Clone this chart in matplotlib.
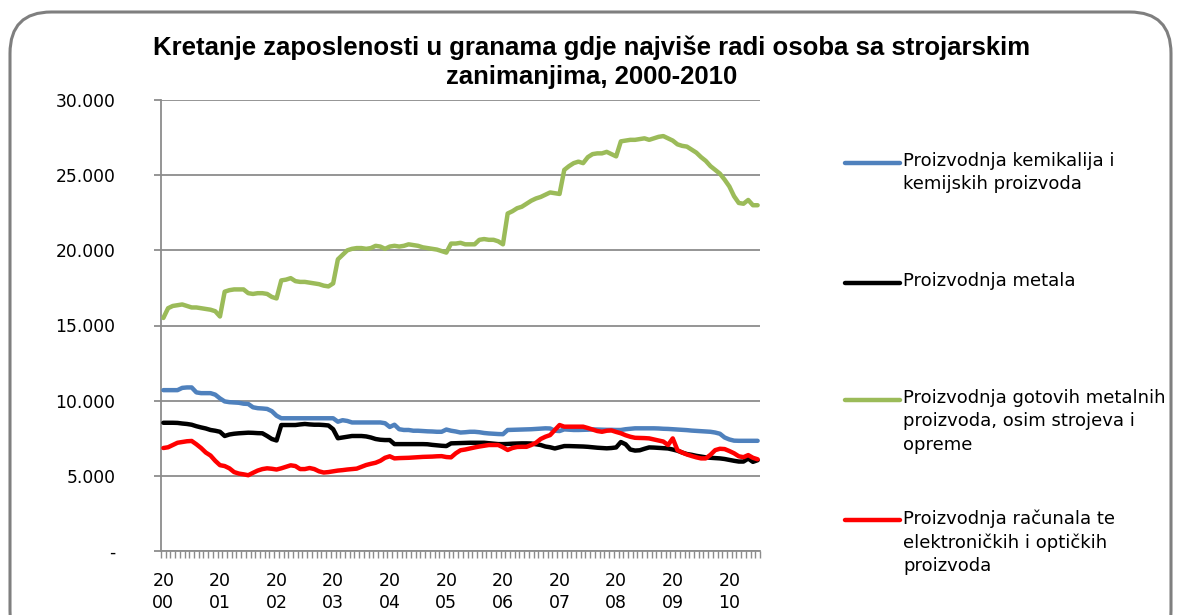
import matplotlib
matplotlib.use("Agg")
import matplotlib.pyplot as plt
from matplotlib.lines import Line2D
from matplotlib.patches import FancyBboxPatch

# ---------------------------------------------------------------- data (monthly, 2000-01 .. 2010-07)
kemikalije = [
    10700, 10700, 10700, 10700, 10850, 10880, 10880, 10550, 10500, 10500, 10500, 10400,
    10150, 9950, 9900, 9880, 9860, 9800, 9780, 9560, 9500, 9480, 9450, 9300,
    9000, 8830, 8830, 8830, 8830, 8830, 8830, 8830, 8830, 8830, 8830, 8830,
    8830, 8600, 8700, 8650, 8550, 8550, 8550, 8550, 8550, 8550, 8550, 8500,
    8250, 8400, 8100, 8050, 8050, 8000, 8000, 7980, 7960, 7950, 7930, 7930,
    8080, 8000, 7950, 7880, 7900, 7930, 7930, 7900, 7850, 7820, 7800, 7780,
    7770, 8050, 8060, 8070, 8080, 8090, 8100, 8120, 8140, 8160, 8150, 8000,
    7980, 8090, 8070, 8050, 8050, 8060, 8070, 8090, 8080, 8070, 8060, 8060,
    8050, 8050, 8100, 8130, 8160, 8160, 8160, 8160, 8160, 8150, 8130, 8120,
    8100, 8080, 8060, 8040, 8010, 7990, 7970, 7950, 7930, 7880, 7800, 7550,
    7420, 7340, 7330, 7330, 7330, 7330, 7330,
]
metali = [
    8530, 8530, 8530, 8520, 8480, 8450, 8400, 8300, 8220, 8150, 8050, 8000,
    7930, 7650, 7750, 7800, 7830, 7850, 7870, 7860, 7840, 7830, 7650, 7450,
    7350, 8380, 8380, 8380, 8380, 8420, 8450, 8420, 8400, 8400, 8380, 8350,
    8100, 7500, 7550, 7600, 7650, 7650, 7650, 7620, 7550, 7450, 7400, 7380,
    7380, 7110, 7110, 7110, 7110, 7110, 7110, 7110, 7100, 7060, 7030, 7000,
    6980, 7160, 7170, 7180, 7190, 7200, 7200, 7200, 7200, 7170, 7140, 7110,
    7110, 7120, 7140, 7150, 7160, 7160, 7150, 7100, 7050, 6950, 6900, 6820,
    6900, 6980, 6980, 6970, 6960, 6950, 6930, 6900, 6870, 6850, 6830, 6850,
    6890, 7250, 7100, 6750, 6680, 6700, 6800, 6890, 6880, 6860, 6840, 6820,
    6750, 6670, 6550, 6450, 6400, 6330, 6280, 6230, 6200, 6180, 6160, 6120,
    6060, 6000, 5950, 5950, 6150, 5930, 6040,
]
gotovi_metalni = [
    15500, 16150, 16300, 16350, 16400, 16300, 16200, 16200, 16150, 16100, 16050, 15950,
    15600, 17250, 17350, 17400, 17400, 17400, 17150, 17100, 17150, 17150, 17100, 16900,
    16800, 18000, 18050, 18150, 17950, 17900, 17900, 17850, 17800, 17750, 17650, 17600,
    17800, 19400, 19700, 20000, 20100, 20150, 20150, 20100, 20150, 20300, 20250, 20100,
    20250, 20300, 20250, 20300, 20400, 20350, 20300, 20200, 20150, 20100, 20050, 19950,
    19850, 20450, 20450, 20500, 20400, 20400, 20400, 20700, 20750, 20700, 20700, 20600,
    20400, 22450, 22600, 22800, 22900, 23100, 23300, 23450, 23550, 23700, 23850, 23800,
    23750, 25350, 25600, 25800, 25900, 25800, 26200, 26400, 26450, 26450, 26550, 26400,
    26250, 27250, 27300, 27350, 27350, 27400, 27450, 27350, 27450, 27550, 27600, 27450,
    27300, 27050, 26950, 26900, 26700, 26500, 26200, 25950, 25600, 25350, 25100, 24700,
    24250, 23600, 23150, 23100, 23350, 23000, 23000,
]
racunala = [
    6850, 6900, 7050, 7200, 7250, 7300, 7320, 7100, 6850, 6550, 6350, 6000,
    5710, 5650, 5500, 5250, 5150, 5100, 5040, 5200, 5350, 5450, 5500, 5470,
    5420, 5500, 5600, 5700, 5650, 5450, 5450, 5520, 5450, 5300, 5220, 5250,
    5300, 5350, 5380, 5420, 5450, 5480, 5600, 5720, 5800, 5870, 6000, 6200,
    6300, 6160, 6180, 6190, 6200, 6220, 6240, 6260, 6270, 6280, 6300, 6310,
    6250, 6230, 6500, 6700, 6750, 6820, 6890, 6950, 7000, 7050, 7050, 7050,
    6900, 6720, 6850, 6920, 6930, 6930, 7050, 7200, 7450, 7600, 7710, 8050,
    8380, 8270, 8270, 8270, 8270, 8270, 8180, 8080, 7980, 7930, 8000, 8020,
    7920, 7830, 7700, 7600, 7530, 7520, 7510, 7490, 7420, 7350, 7280, 7050,
    7490, 6710, 6550, 6420, 6320, 6230, 6160, 6160, 6400, 6710, 6800, 6780,
    6650, 6500, 6300, 6240, 6380, 6200, 6100,
]

years = ["00", "01", "02", "03", "04", "05", "06", "07", "08", "09", "10"]
y_ticks = [0, 5000, 10000, 15000, 20000, 25000, 30000]
y_labels = ["-", "5.000", "10.000", "15.000", "20.000", "25.000", "30.000"]

series_labels = [
    "Proizvodnja kemikalija i\nkemijskih proizvoda",
    "Proizvodnja metala",
    "Proizvodnja gotovih metalnih\nproizvoda, osim strojeva i\nopreme",
    "Proizvodnja računala te\nelektroničkih i optičkih\nproizvoda",
]
title = ("Kretanje zaposlenosti u granama gdje najviše radi osoba sa strojarskim\n"
         "zanimanjima, 2000-2010")

# ---------------------------------------------------------------- style
BLUE = "#4F81BD"
BLACK = "#000000"
GREEN = "#9BBB59"
RED = "#FF0000"
GRIDC = "#8C8C8C"
colors = [BLUE, BLACK, GREEN, RED]
series = [kemikalije, metali, gotovi_metalni, racunala]

plt.rcParams["font.family"] = ["DejaVu Sans"]

W, H = 1181, 615
fig = plt.figure(figsize=(W / 100, H / 100), dpi=100)
fig.patch.set_facecolor("white")

# rounded chart frame, kept behind the axes
frame = FancyBboxPatch((10 / W, -0.06), 1161 / W, 1.06 - 12 / H,
                       transform=fig.transFigure,
                       boxstyle="round,pad=0,rounding_size=0.035",
                       mutation_aspect=W / H, facecolor="white",
                       edgecolor="#7F7F7F", linewidth=2.2, clip_on=False,
                       zorder=-10)
fig.patches.append(frame)

ax = fig.add_axes([161 / W, 1 - 551 / H, (760 - 161) / W, (551 - 100) / H])
ax.set_facecolor("none")

n = len(kemikalije)
x = list(range(n))
for vals, c in zip(series, colors):
    ax.plot(x, vals, color=c, lw=3.2, solid_joinstyle="round",
            solid_capstyle="round", zorder=3)

ax.set_xlim(-0.5, n - 0.5)
ax.set_ylim(0, 30000)

for s in ("top", "right"):
    ax.spines[s].set_visible(False)
for s in ("left", "bottom"):
    ax.spines[s].set_color(GRIDC)
    ax.spines[s].set_linewidth(1.3)

ax.set_yticks(y_ticks)
ax.set_yticklabels(y_labels, fontsize=12.3)
ax.tick_params(axis="y", length=5, width=1.3, color=GRIDC, pad=28)
ax.grid(True, axis="y", color=GRIDC, lw=1.3, zorder=0)

ax.set_xticks([12 * i for i in range(len(years))])
ax.set_xticklabels(["20\n" + y for y in years], fontsize=12.5, linespacing=1.3)
ax.set_xticks([i - 0.5 for i in range(n + 1)], minor=True)
ax.tick_params(axis="x", which="major", length=0, pad=15)
ax.tick_params(axis="x", which="minor", length=5, width=1.0, color=GRIDC)

fig.text(592 / W, 1 - 36 / H, title, ha="center", va="top",
         fontsize=18.5, fontweight="bold", family="Liberation Sans",
         linespacing=1.25)

# legend at right
leg_y = [163, 283, 400, 520]
for ly, c, lab in zip(leg_y, colors, series_labels):
    fig.add_artist(Line2D([845 / W, 900 / W], [1 - ly / H, 1 - ly / H],
                          transform=fig.transFigure, color=c, lw=3.2,
                          solid_capstyle="round"))
    fig.text(903 / W, 1 - (ly - 11) / H, lab, ha="left", va="top",
             fontsize=13, linespacing=1.38)

fig.savefig("out.png", dpi=100, facecolor="white")
